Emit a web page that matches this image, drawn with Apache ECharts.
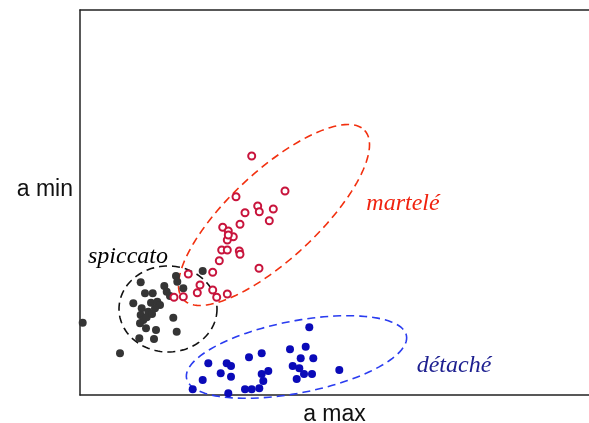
<!DOCTYPE html>
<html>
<head>
<meta charset="utf-8">
<script src="https://cdn.jsdelivr.net/npm/echarts@6/dist/echarts.min.js"></script>
<style>html,body{margin:0;padding:0;background:#fff;}#c{width:589px;height:423px;}</style>
</head>
<body>
<div id="c"></div>
<script>
const spiccato = [
  [2.7,72.3],[40,41.7],[60.7,112.7],[65,101.7],[72.7,101.7],[84.3,109],[86.7,103.3],[90,99],
  [96,119],[97.3,113.3],[103.3,106.7],[122.7,124],[53.3,91.7],[61.7,86.7],[71,92.3],[77.3,93.3],
  [80,90],[75,86.7],[68.3,83.3],[60.7,80],[63.3,75],[60,71.7],[66.7,77.7],[66,66.7],[76,65],
  [93.3,77.3],[96.7,63.3],[59.3,56.7],[74,56],[72,81]
];
const martele = [
  [171.7,239],[205,204],[156,198.3],[177.7,189],[179.3,183.3],[193.3,186],[165,182.3],[189.3,174.3],
  [160,170.7],[142.7,167.7],[148.3,164],[153.3,158.3],[147.3,155],[148.3,160],[141.7,145],[147.3,145],
  [159.3,144],[160,140.7],[139.3,134.3],[179,126.7],[132.7,122.7],[108.3,121],[120,110],[117.3,102.3],
  [132.7,105],[136.7,97.7],[147.3,101],[103.3,98.3],[94,97.7]
];
const detache = [
  [229.3,67.7],[225.7,48.3],[210,45.7],[233.3,36.7],[220.7,36.7],[212.7,29],[219.3,26.7],[224,21],
  [232,21],[216.7,16],[259.3,25],[181.7,41.7],[169,37.7],[146.7,31.7],[151,29],[128.3,31.7],
  [140.7,21.7],[151,18.3],[122.7,15],[188.3,24],[181.7,21],[183.3,14],[179.3,6.7],[171.7,5.7],
  [165,5.7],[148.3,1.7],[112.7,5.7]
];
// ellipse annotations: [centerX, centerY, semiMajor, semiMinor, angleDeg]
const ellipses = [
  [88, 86, 49, 43, 0],
  [194, 180, 124, 44, 43],
  [216.5, 38, 112, 36, 11]
];
const ellipseColors = ['#111111', '#f2300f', '#2a3cf0'];
const groupLabels = [
  ['spiccato', 48, 138],
  ['martelé', 323, 191],
  ['détaché', 374, 29]
];
const labelColors = ['#000000', '#f0220f', '#1e2090'];
const xName = 'a max';
const yName = 'a min';

const chart = echarts.init(document.getElementById('c'));

function renderEllipse(params, api) {
  const c = api.coord([api.value(0), api.value(1)]);
  const s = api.size([1, 1]);
  const a = api.value(2) * s[0];
  const b = api.value(3) * s[1];
  const th = api.value(4) * Math.PI / 180;
  const pts = [];
  for (let i = 0; i < 120; i++) {
    const t = i / 120 * Math.PI * 2;
    const ca = a * Math.cos(t), sb = b * Math.sin(t);
    pts.push([c[0] + ca * Math.cos(th) + sb * Math.sin(th),
              c[1] - ca * Math.sin(th) + sb * Math.cos(th)]);
  }
  return {
    type: 'polygon',
    shape: { points: pts },
    style: { fill: 'none', stroke: ellipseColors[params.dataIndex], lineWidth: 1.6, lineDash: [8, 5] }
  };
}

chart.setOption({
  animation: false,
  grid: { left: 80, top: 10, right: 0, bottom: 28, containLabel: false, outerBoundsMode: 'none' },
  xAxis: [{
    type: 'value', min: 0, max: 509, position: 'bottom',
    name: xName, nameLocation: 'middle', nameGap: 8,
    nameTextStyle: { fontFamily: 'Liberation Sans', fontSize: 23, color: '#111', verticalAlign: 'top' },
    axisLine: { show: true, lineStyle: { color: '#222', width: 1.5 } },
    axisTick: { show: false }, axisLabel: { show: false }, splitLine: { show: false }
  }, {
    type: 'value', min: 0, max: 509, position: 'top',
    axisLine: { show: true, lineStyle: { color: '#222', width: 1.5 } },
    axisTick: { show: false }, axisLabel: { show: false }, splitLine: { show: false }
  }],
  yAxis: {
    type: 'value', min: 0, max: 385,
    name: yName, nameLocation: 'middle', nameGap: 7, nameRotate: 0,
    nameTextStyle: { fontFamily: 'Liberation Sans', fontSize: 23, color: '#111', align: 'right', verticalAlign: 'bottom', padding: [0, 0, 1, 0] },
    axisLine: { show: true, lineStyle: { color: '#222', width: 1.5 } },
    axisTick: { show: false }, axisLabel: { show: false }, splitLine: { show: false }
  },
  series: [
    {
      type: 'custom', renderItem: renderEllipse, data: ellipses, clip: false, z: 1, silent: true
    },
    {
      type: 'scatter', data: spiccato, symbol: 'circle', symbolSize: 8,
      itemStyle: { color: '#353535', opacity: 1 }, z: 3
    },
    {
      type: 'scatter', data: martele, symbol: 'circle', symbolSize: 7,
      itemStyle: { color: '#ffffff', borderColor: '#c8143c', borderWidth: 2, opacity: 1 }, z: 4
    },
    {
      type: 'scatter', data: detache, symbol: 'circle', symbolSize: 8,
      itemStyle: { color: '#0a0ab8', opacity: 1 }, z: 3
    },
    {
      type: 'scatter', symbolSize: 0, silent: true, z: 5,
      itemStyle: { opacity: 1 },
      data: groupLabels.map((g, i) => ({
        value: [g[1], g[2]], name: g[0],
        label: { show: true, position: 'inside', formatter: g[0], color: labelColors[i], opacity: 1,
          textBorderWidth: 0, textBorderColor: 'transparent', textShadowBlur: 0,
          fontFamily: 'Liberation Serif', fontStyle: 'italic', fontSize: 24 }
      }))
    }
  ]
});
</script>
</body>
</html>
